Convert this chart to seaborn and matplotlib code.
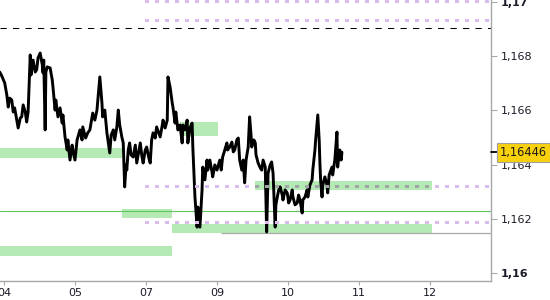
import matplotlib
matplotlib.use("Agg")
import matplotlib.pyplot as plt
import seaborn as sns
import pandas as pd
from matplotlib.lines import Line2D
from matplotlib.patches import Rectangle

# ---------------- data ----------------
tick_pos = [0, 1, 2, 3, 4, 5, 6]
tick_labels = ["04", "05", "07", "09", "10", "11", "12"]

y_ticks = [1.160, 1.162, 1.164, 1.166, 1.168, 1.170]
y_tick_labels = ["1,16", "1,162", "1,164", "1,166", "1,168", "1,17"]

time = [-0.06, -0.03, 0.01, 0.04, 0.06, 0.08, 0.11, 0.13, 0.15, 0.18, 0.20, 0.23, 0.25, 0.27, 0.30,
        0.32, 0.34, 0.37, 0.38, 0.41, 0.44, 0.46, 0.48, 0.51, 0.54, 0.55, 0.56, 0.58, 0.59, 0.61,
        0.65, 0.68, 0.69, 0.72, 0.73, 0.76, 0.79, 0.82, 0.83, 0.86, 0.89, 0.90, 0.93, 0.96, 0.97,
        1.00, 1.03, 1.07, 1.10, 1.11, 1.15, 1.18,
        1.21, 1.25, 1.28, 1.31, 1.35, 1.37, 1.38, 1.39, 1.42, 1.45, 1.49, 1.51, 1.54, 1.56, 1.59,
        1.61, 1.63, 1.66, 1.68, 1.70, 1.72, 1.73, 1.75, 1.77, 1.79, 1.82, 1.85, 1.87, 1.92, 1.94,
        1.96, 1.99, 2.01, 2.04, 2.06, 2.08, 2.10, 2.13, 2.15, 2.20, 2.23, 2.24, 2.27, 2.30, 2.31,
        2.34, 2.37, 2.38, 2.41, 2.42, 2.45, 2.48, 2.51, 2.52, 2.55, 2.58, 2.59, 2.62, 2.65, 2.66,
        2.69, 2.72, 2.73, 2.75, 2.76, 2.79, 2.80, 2.83, 2.86, 2.87, 2.90, 2.93, 2.94, 2.97, 3.00,
        3.04, 3.06, 3.08, 3.11, 3.14, 3.15, 3.18, 3.21, 3.23, 3.25, 3.28, 3.30, 3.32, 3.35, 3.37,
        3.39, 3.41, 3.44, 3.46, 3.48, 3.49, 3.52, 3.54, 3.55, 3.58, 3.61, 3.63, 3.65, 3.68, 3.70,
        3.72, 3.75, 3.77, 3.79, 3.82, 3.83, 3.85, 3.87, 3.89, 3.92, 3.93, 3.96, 3.99, 4.01, 4.03,
        4.06, 4.07, 4.10, 4.13, 4.15, 4.17, 4.20, 4.21, 4.24, 4.27, 4.28, 4.31, 4.34, 4.35, 4.38,
        4.39, 4.42, 4.44, 4.45, 4.46, 4.48, 4.49, 4.52, 4.55, 4.56, 4.58, 4.62, 4.63, 4.66, 4.69,
        4.70, 4.72, 4.73, 4.75, 4.76]

price = [1.16741, 1.16726, 1.16701, 1.16657, 1.16612, 1.16645, 1.16638, 1.16594, 1.16609, 1.16564,
         1.16535, 1.16572, 1.16576, 1.16620, 1.16594, 1.16557, 1.16594, 1.16804, 1.16730, 1.16785,
         1.16741, 1.16749, 1.16793, 1.16811, 1.16767, 1.16738, 1.16785, 1.16528, 1.16741, 1.16760,
         1.16756, 1.16712, 1.16686, 1.16601, 1.16638, 1.16576, 1.16609, 1.16553, 1.16583, 1.16502,
         1.16454, 1.16491, 1.16417, 1.16472, 1.16454, 1.16417, 1.16491, 1.16528, 1.16491, 1.16539,
         1.16498, 1.16517,
         1.16528, 1.16590, 1.16564, 1.16601, 1.16723, 1.16657, 1.16627, 1.16576, 1.16601, 1.16517,
         1.16443, 1.16509, 1.16528, 1.16491, 1.16539, 1.16601, 1.16546, 1.16502, 1.16480, 1.16318,
         1.16399, 1.16380, 1.16454, 1.16480, 1.16436, 1.16428, 1.16472, 1.16406, 1.16480, 1.16436,
         1.16406, 1.16454, 1.16465, 1.16425, 1.16406, 1.16491, 1.16517, 1.16498, 1.16539, 1.16502,
         1.16546, 1.16564, 1.16535, 1.16564, 1.16723, 1.16686, 1.16627, 1.16612, 1.16553, 1.16594,
         1.16528, 1.16546, 1.16480, 1.16546, 1.16528, 1.16564, 1.16480, 1.16535, 1.16553, 1.16465,
         1.16281, 1.16170, 1.16244, 1.16196, 1.16170, 1.16307, 1.16391, 1.16344, 1.16417, 1.16380,
         1.16417, 1.16373, 1.16355, 1.16399, 1.16380, 1.16417, 1.16380, 1.16428, 1.16454, 1.16480,
         1.16454, 1.16465, 1.16483, 1.16447, 1.16454, 1.16491, 1.16498, 1.16417, 1.16380, 1.16417,
         1.16333, 1.16417, 1.16465, 1.16576, 1.16509, 1.16465, 1.16491, 1.16480, 1.16436, 1.16406,
         1.16388, 1.16380, 1.16417, 1.16391, 1.16152, 1.16369, 1.16399, 1.16410, 1.16369, 1.16170,
         1.16252, 1.16281, 1.16307, 1.16318, 1.16288, 1.16270, 1.16307, 1.16296, 1.16259, 1.16270,
         1.16307, 1.16281, 1.16252, 1.16259, 1.16288, 1.16270, 1.16222, 1.16270, 1.16281, 1.16307,
         1.16281, 1.16325, 1.16344, 1.16380, 1.16454, 1.16491, 1.16583, 1.16491, 1.16406, 1.16344,
         1.16281, 1.16325, 1.16355, 1.16325, 1.16296, 1.16362, 1.16391, 1.16362, 1.16417, 1.16520,
         1.16391, 1.16436, 1.16454, 1.16417, 1.16446]

last_price = 1.16446
last_label = "1,16446"

# zones (green rectangles)
zone_start = [-0.06, 2.48, 1.66, 2.37, -0.06, 3.54]
zone_end = [1.66, 3.01, 2.37, 6.03, 2.37, 6.03]
zone_low = [1.16425, 1.16504, 1.16204, 1.16148, 1.16064, 1.16307]
zone_high = [1.16461, 1.16557, 1.16237, 1.16182, 1.16101, 1.16340]

# purple dotted levels
purple_levels = [1.17001, 1.16934, 1.16321, 1.16189]
purple_start = 1.99

dashed_level = 1.16902
green_level = 1.16228
gray_level = 1.16150
gray_start = 3.06

x_min, x_max = -0.056, 6.86
y_min, y_max = 1.159716, 1.170063

# ---------------- plot ----------------
sns.set_style("white")
plt.rcParams["font.family"] = ["DejaVu Sans"]

fig = plt.figure(figsize=(5.5, 3), dpi=100)
ax = fig.add_axes([0.0, 19 / 300, 491 / 550, 281 / 300])

green = "#b6eab4"
purple = "#d9bbee"

for xs, xe, lo, hi in zip(zone_start, zone_end, zone_low, zone_high):
    ax.add_patch(Rectangle((xs, lo), xe - xs, hi - lo, facecolor=green, edgecolor="none", zorder=1))

ax.axhline(green_level, color="#5cc65c", lw=0.8, zorder=2)
ax.hlines(gray_level, gray_start, x_max, color="#a9a9a9", lw=0.9, zorder=2)
ax.axhline(dashed_level, color="black", lw=0.75, linestyle=(0, (6, 6)), zorder=2)

df = pd.DataFrame({"time": time, "price": price})
sns.lineplot(data=df, x="time", y="price", sort=False, estimator=None,
             color="black", lw=2.1, ax=ax, zorder=3)

for lvl in purple_levels:
    ax.hlines(lvl, purple_start, x_max, color=purple, lw=2.16,
              linestyle=(0, (1, 2.33)), zorder=4, antialiased=False)

# gray appearance of dots where they cross the right green zone
zone_patch = Rectangle((zone_start[5], zone_low[5]), zone_end[5] - zone_start[5],
                       zone_high[5] - zone_low[5], transform=ax.transData,
                       facecolor="none", edgecolor="none")
ax.add_patch(zone_patch)
gl = ax.hlines(purple_levels[2], purple_start, x_max, color="#a3a3aa", lw=2.16,
               linestyle=(0, (1, 2.33)), zorder=5, antialiased=False)
gl.set_clip_path(zone_patch)

ax.set_xlim(x_min, x_max)
ax.set_ylim(y_min, y_max)

for s in ["top", "left"]:
    ax.spines[s].set_visible(False)
for s in ["right", "bottom"]:
    ax.spines[s].set_visible(True)
    ax.spines[s].set_color("#a8a8a8")
    ax.spines[s].set_linewidth(1.0)

ax.yaxis.tick_right()
ax.set_yticks(y_ticks)
ax.set_yticklabels(y_tick_labels)
ax.set_xticks(tick_pos)
ax.set_xticklabels(tick_labels)
ax.tick_params(axis="y", which="both", right=True, left=False, length=4.3, width=0.8,
               color="#a8a8a8", pad=3, labelsize=8, labelcolor="#1b1b28")
ax.tick_params(axis="x", which="both", bottom=True, length=3, width=0.8,
               color="#a8a8a8", pad=2, labelsize=8, labelcolor="#1b1b28")
for lbl in ax.get_yticklabels():
    if lbl.get_text() in ("1,16", "1,17"):
        lbl.set_fontweight("bold")
ax.set_xlabel("")
ax.set_ylabel("")
ax.grid(False)

# last price marker and label
y_frac = ax.transData.transform((0, last_price))[1] / fig.bbox.height
fig.add_artist(Line2D([491 / 550, 498 / 550], [y_frac, y_frac], color="black", lw=1.3))
fig.text(500 / 550, y_frac, last_label, ha="left", va="center", fontsize=8.3, color="#1b1b1b",
         bbox=dict(boxstyle="square,pad=0.25", facecolor="#f8d10c", edgecolor="#a0a0a0", lw=0.8),
         zorder=10)

fig.savefig("out.png", dpi=100)
